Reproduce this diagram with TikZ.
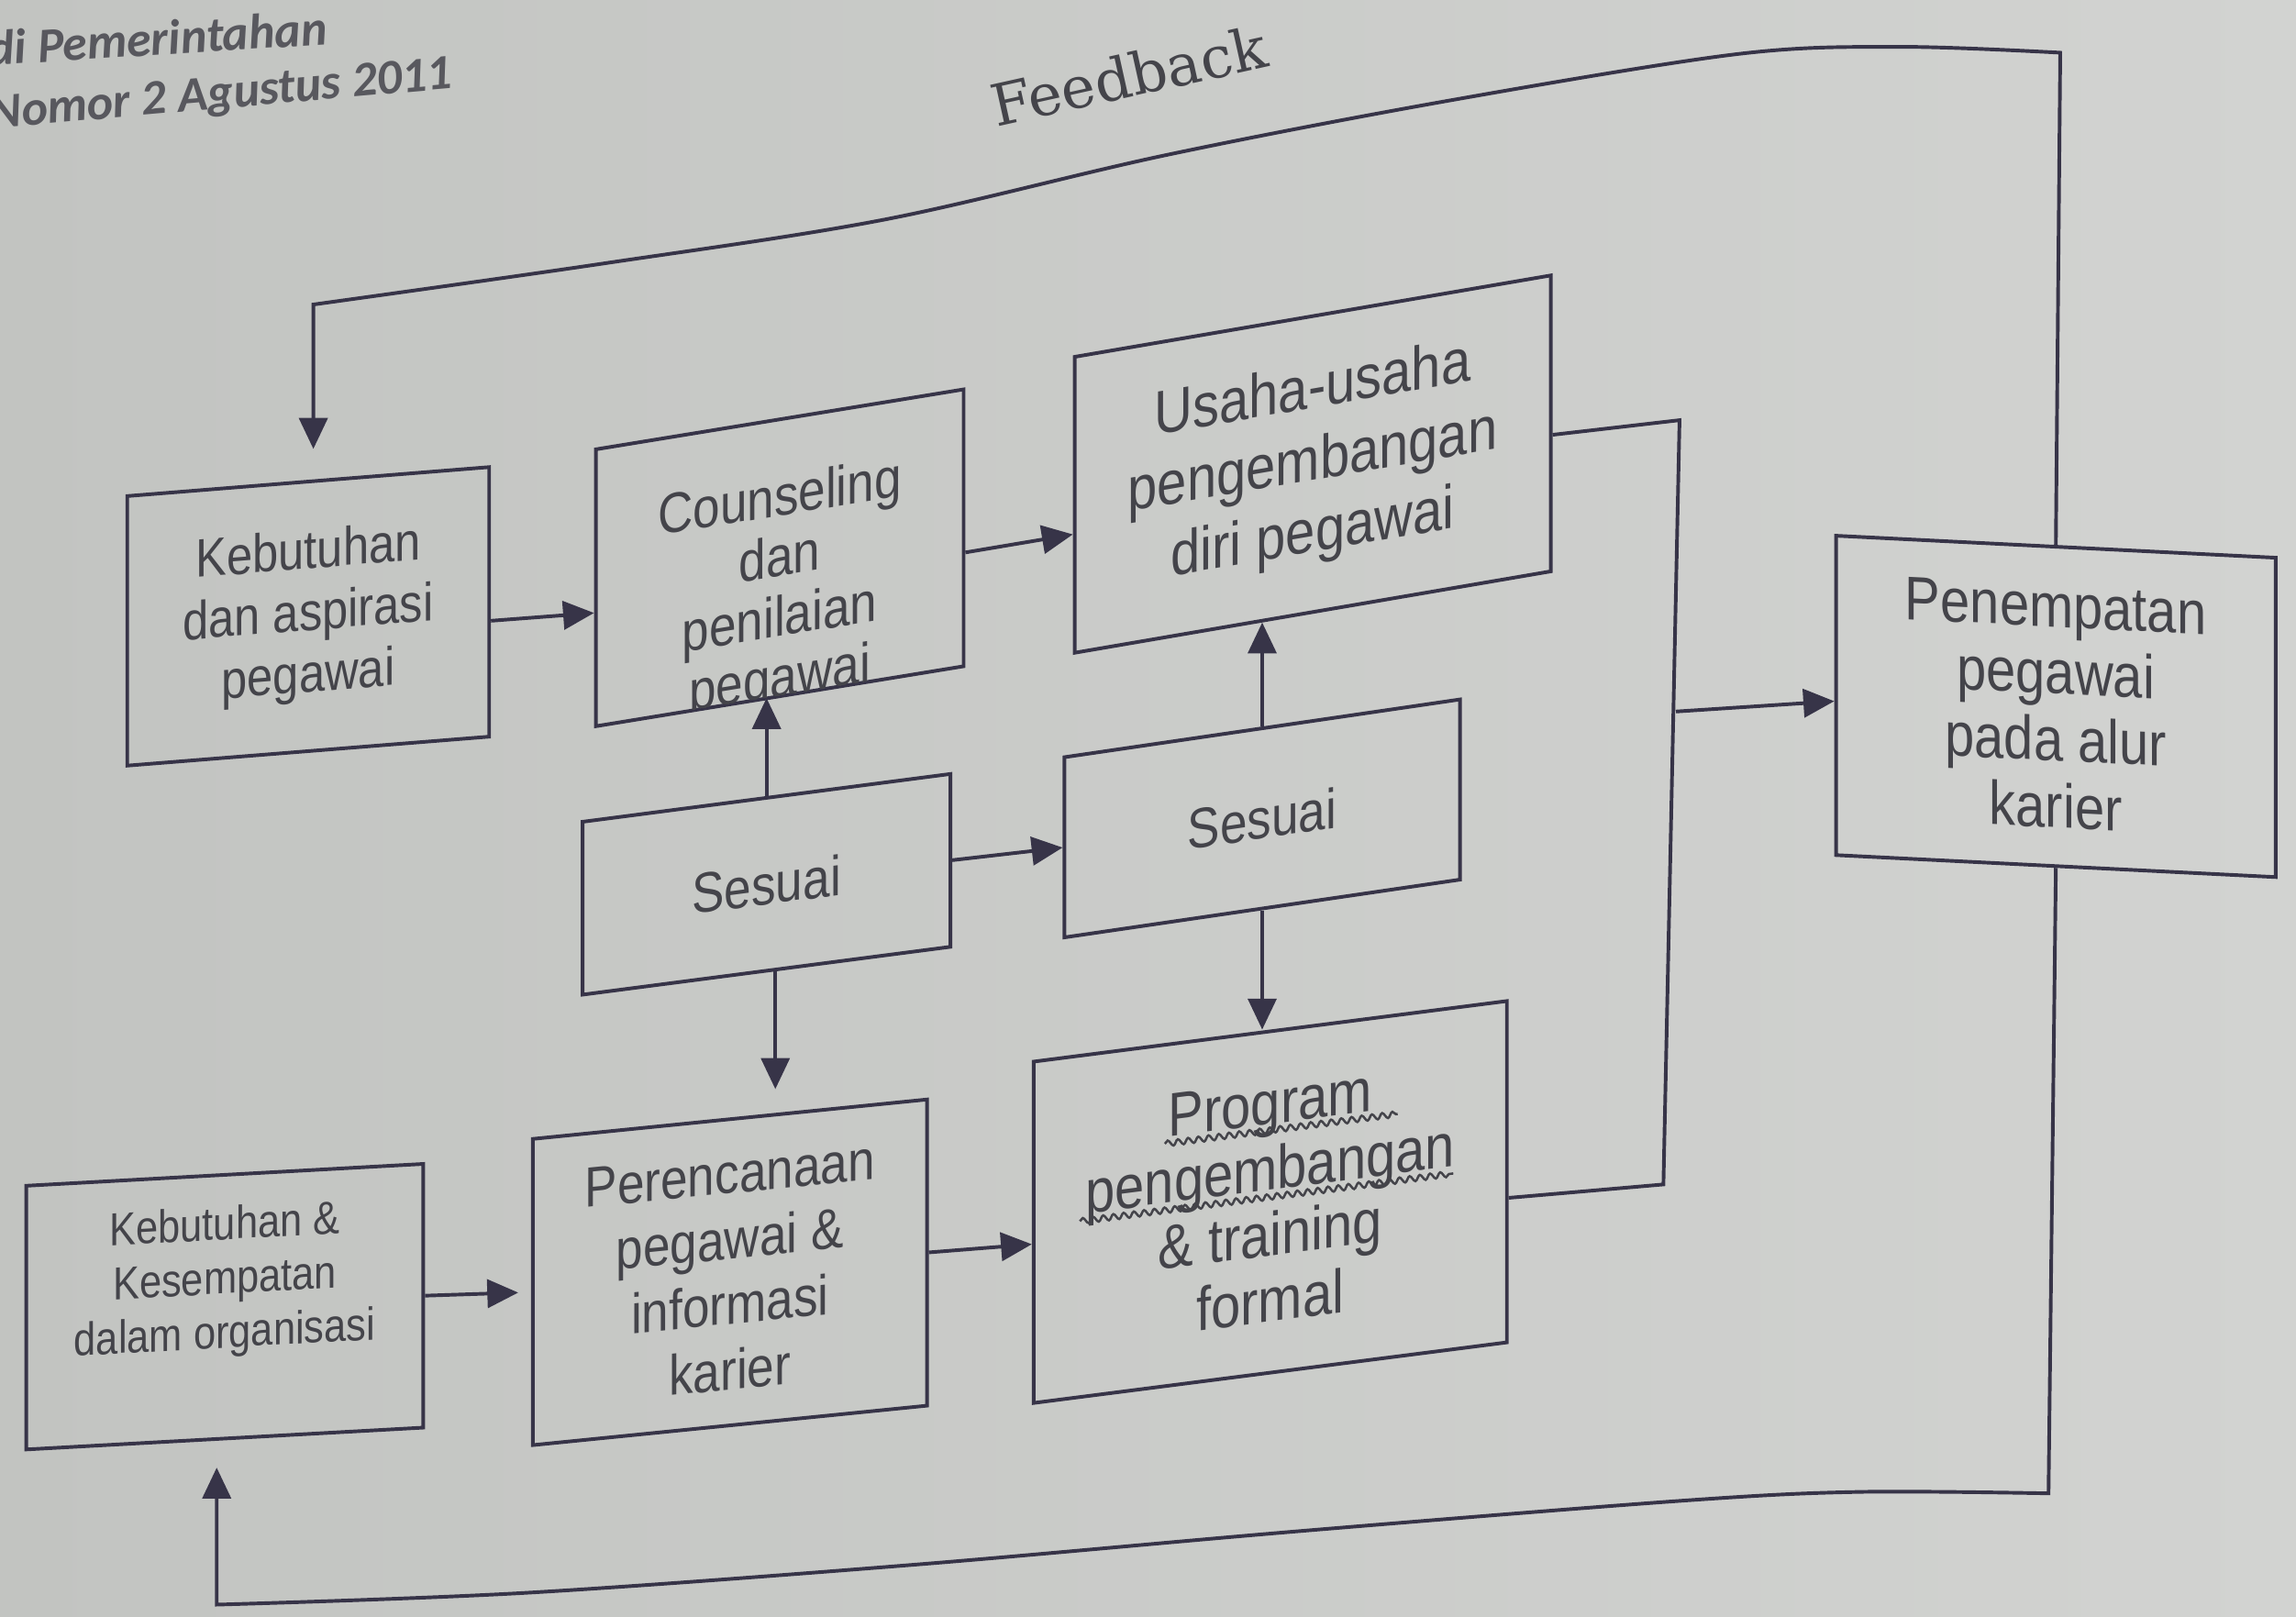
\documentclass[tikz,border=0pt]{standalone}
\usepackage{fontspec}
\setmainfont{Liberation Sans}[FakeStretch=0.86]
\newfontfamily\fbfont{DejaVu Serif}
\newfontfamily\hdfont{Carlito}
\usetikzlibrary{arrows.meta,calc,decorations.pathmorphing}
\definecolor{linec}{RGB}{55,52,72}
\definecolor{textc}{RGB}{68,68,74}
\definecolor{bgL}{RGB}{194,196,193}
\definecolor{bgR}{RGB}{210,211,209}
\definecolor{hdc}{RGB}{88,88,94}
\tikzset{
  box/.style={draw=linec, line width=0.7pt, inner sep=0pt, text=textc, align=center},
  txt/.style={inner sep=0pt, text=textc, align=center},
  ln/.style={draw=linec, line width=0.7pt, line join=miter},
  arr/.style={ln, -{Triangle[length=6pt,width=5.5pt]}},
  wavy/.style={draw=textc, line width=0.45pt, decorate, decoration={snake, amplitude=0.55pt, segment length=2pt}},
  hdr/.style={font=\hdfont\bfseries\itshape\fontsize{9.6}{11}\selectfont, text=hdc, inner sep=0pt, anchor=base west}
}
\begin{document}
\begin{tikzpicture}[x=0.01cm, y=-0.01cm]
\useasboundingbox (0,0) rectangle (1568,1104);
\shade[left color=bgL, right color=bgR] (0,0) rectangle (1568,1104);

% header
\node[hdr, rotate=3.6] (h1) at (-8,45) {di Pemerintahan};
\node[hdr, rotate=5] (h2) at (-7,88) {Nomor 2 Agustus 2011};

% feedback label
\node[font=\fbfont\fontsize{11.2}{13}\selectfont, text=textc, rotate=12.5, anchor=base, inner sep=0pt] (fb) at (774,66) {Feedback};

% boxes
\node[box, yslant=0.08, minimum width=2.47cm, minimum height=1.84cm, font=\fontsize{10.5}{12}\selectfont] (b1) at (210.5,421) {Kebutuhan\\dan aspirasi\\pegawai};

\node[box, yslant=0.163, minimum width=2.51cm, minimum height=1.89cm] (b2) at (532.5,381) {};
\begin{scope}
\clip ($(b2.north west)+(0,-1)$) -- ($(b2.north east)+(0,-1)$) -- ($(b2.south east)+(0,-2)$) -- ($(b2.south west)+(0,-2)$) -- cycle;
\node[txt, yslant=0.163, font=\fontsize{11}{11.7}\selectfont] (b2t) at ($(b2.center)+(0,23)$) {Counseling\\dan\\penilaian\\pegawai};
\end{scope}

\node[box, yslant=0.171, minimum width=3.25cm, minimum height=2.02cm, font=\fontsize{12}{14}\selectfont] (b3) at (896.5,317) {Usaha-usaha\\pengembangan\\diri pegawai};

\node[box, yslant=0.13, minimum width=2.51cm, minimum height=1.18cm, font=\fontsize{11}{13}\selectfont] (s1) at (523.5,604) {Sesuai};
\node[box, yslant=0.146, minimum width=2.70cm, minimum height=1.23cm, font=\fontsize{11}{13}\selectfont] (s2) at (862,559) {Sesuai};

\node[box, yslant=0.055, minimum width=2.71cm, minimum height=1.80cm] (b6) at (153.5,892.5) {};
\node[txt, yslant=0.055, font=\fontsize{9}{10.5}\selectfont] (b6t) at ($(b6.center)+(0,-17)$) {Kebutuhan \&\\Kesempatan\\dalam organisasi};

\node[box, yslant=0.10, minimum width=2.69cm, minimum height=2.09cm, font=\fontsize{11}{12.7}\selectfont] (b7) at (498.5,869) {Perencanaan\\pegawai \&\\informasi\\karier};

\node[box, yslant=0.128, minimum width=3.23cm, minimum height=2.33cm, font=\fontsize{12}{12.8}\selectfont] (b8) at (867.5,821) {Program\\pengembangan\\\& training\\formal};
\begin{scope}[shift={(b8.center)}, yslant=0.128]
\draw[wavy] (-72,-49) -- (87,-49);
\draw[wavy] (-130,-3.5) -- (125,-3.5);
\end{scope}

\node[box, yslant=-0.05, minimum width=3.00cm, minimum height=2.18cm, font=\fontsize{12}{13}\selectfont] (b9) at (1404,482.5) {Penempatan\\pegawai\\pada alur\\karier};

% connectors
\draw[arr] ($(b1.east)+(0,13)$) -- ($(b2.west)+(0,17)$);
\draw[arr] ($(b2.east)+(0,17)$) -- ($(b3.west)+(0,20)$);
\draw[arr] (s1.north) -- (s1.north |- b2.south);
\draw[arr] (s1.east) -- (s2.west);
\coordinate (s1d) at ($(s1.south)+(6,-0.8)$);
\draw[arr, shorten >=5.5pt] (s1d) -- (s1d |- b7.north);
\draw[arr] (s2.north) -- ($(b3.south)+(-34.5,5.9)$);
\draw[arr] (s2.south) -- (s2.south |- b8.north);
\draw[arr, shorten >=2.5pt] (b6.east) -- (b7.west);
\draw[arr] (b7.east) -- ($(b8.west)+(0,8)$);

% right bus
\coordinate (busT) at (1147,287);
\coordinate (busM) at (1144.5,486);
\coordinate (busB) at (1136,809);
\draw[ln] ($(b3.east)+(0,8)$) -- (busT) -- (busB) -- ($(b8.east)+(0,18)$);
\draw[arr] (busM) -- ($(b9.west)+(0,4)$);

% feedback loops
\coordinate (fbL) at (214,208);
\draw[arr, shorten >=6pt] (b9.north) -- plot[smooth, tension=0.55] coordinates {(1407,36) (1297,32) (1186,37) (988,69) (796,106) (604,150) (412,180) (214,208)} -- (fbL |- b1.north);
\coordinate (fbBL) at (148,1096);
\draw[arr, shorten >=5.3pt] (b9.south) -- plot[smooth, tension=0.55] coordinates {(1399,1020) (1270,1019) (1149,1025) (885,1046) (621,1069) (358,1088) (148,1096)} -- (fbBL |- b6.south);
\end{tikzpicture}
\end{document}
